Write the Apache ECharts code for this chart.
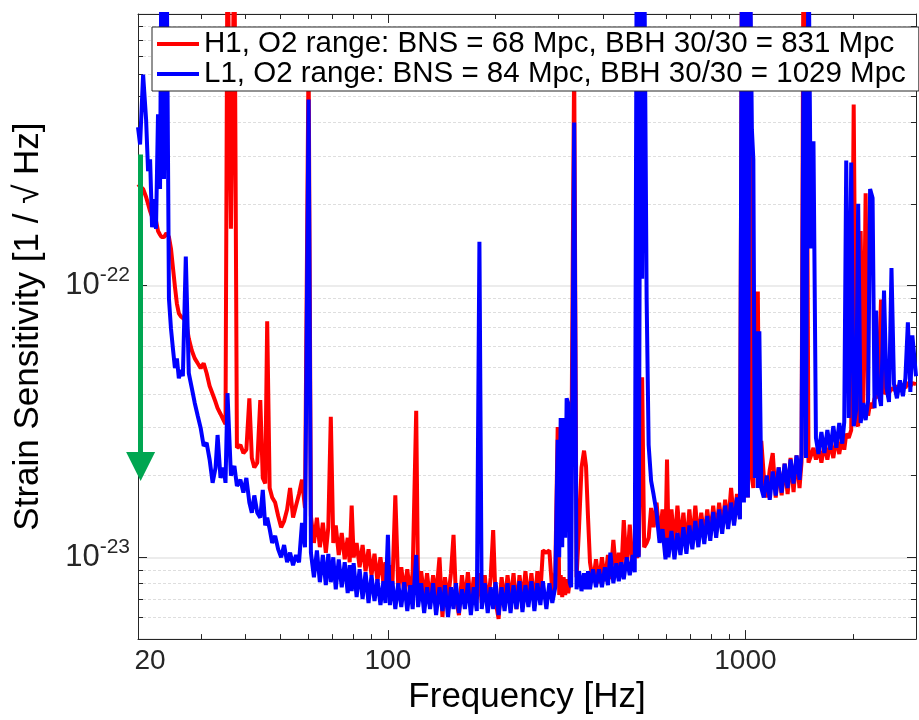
<!DOCTYPE html>
<html><head><meta charset="utf-8">
<script src="https://cdn.jsdelivr.net/npm/echarts@6/dist/echarts.min.js"></script>
<style>html,body{margin:0;padding:0;background:#fff}#c{width:919px;height:720px}</style>
</head><body><div id="c"></div>
<script>
// ---- data (frequency in Hz, strain in 1/sqrt(Hz)) ----
const freqHz = [
20, 20.27, 20.67, 21.07, 21.34, 21.62, 21.90, 22.18, 22.46, 22.75,
23.05, 23.27, 23.64, 24.03, 24.41, 24.73, 25.04, 25.37, 25.69, 26.02,
26.36, 26.70, 27.21, 27.74, 28.28, 28.82, 29.38, 29.95, 30.53, 31.12,
31.72, 32.34, 32.96, 33.39, 34.03, 34.69, 35.14, 35.59, 36.39, 37.21,
37.82, 38.68, 39.43, 40.19, 40.97, 41.63, 42.30, 43.12, 43.96, 44.67,
45.38, 45.96, 46.70, 47.46, 48.38, 49.33, 50.28, 51.25, 52.25, 53.26,
54.29, 55.35, 56.42, 57.51, 58.63, 60.0, 60.91, 62.10, 63.30, 64.52,
65.78, 67.05, 68.13, 69.23, 70.35, 71.48, 72.87, 74.28, 75.72, 77.19,
78.19, 79.19, 80.21, 81.76, 83.34, 84.96, 86.60, 88.27, 89.99, 91.73,
93.50, 95.32, 97.16, 98.42, 100.0, 101.3, 102.9, 104.9, 106.9, 109.0,
111.1, 113.3, 115.5, 117.3, 120.0, 121.5, 123.9, 126.3, 128.7, 131.2,
133.8, 136.4, 139.4, 142.1, 144.4, 147.3, 150.1, 152.6, 155.0, 158.0,
161.1, 164.2, 167.4, 170.6, 173.9, 177.3, 180.3, 183.0, 186.6, 190.2,
193.9, 197.0, 200.1, 204.0, 208.0, 212.0, 216.1, 220.3, 224.6, 228.9,
233.4, 237.9, 242.5, 247.2, 252.0, 256.9, 261.9, 267.0, 271.3, 277.5,
282.9, 288.3, 293.9, 298.5, 301.4, 304.3, 307.3, 310.2, 313.2, 316.2,
319.3, 322.4, 325.5, 331.9, 337.1, 342.5, 348.0, 353.7, 358.2, 362.9,
367.5, 374.7, 382.0, 389.4, 396.9, 404.6, 412.5, 419.1, 427.2, 435.5,
442.5, 449.6, 456.8, 465.7, 474.8, 484.0, 490.3, 496.6, 503.0, 509.4,
514.2, 520.9, 529.3, 536.2, 544.8, 553.6, 564.3, 575.2, 586.4, 597.7,
603.5, 609.3, 621.1, 633.2, 645.4, 658.0, 670.7, 683.8, 697.0, 710.5,
724.3, 738.4, 752.6, 767.2, 782.1, 797.3, 812.7, 828.4, 844.5, 860.9,
877.6, 894.5, 911.9, 929.5, 947.1, 965.4, 977.9, 990.4, 1003.2, 1016.0,
1029.2, 1042.5, 1052.4, 1062.6, 1073.0, 1083.2, 1093.8, 1107.6, 1125.6, 1147.3,
1169.6, 1192.4, 1215.4, 1239.1, 1262.8, 1287.2, 1312.3, 1337.6, 1363.4, 1390.0,
1416.8, 1435.0, 1453.6, 1477.0, 1501.2, 1525.3, 1550.0, 1574.9, 1600.5, 1631.4,
1662.9, 1695.1, 1728.0, 1761.4, 1795.8, 1830.4, 1865.8, 1889.9, 1914.1, 1945.2,
1976.5, 2008.4, 2040.6, 2067.1, 2100.4, 2134.6, 2168.9, 2203.9, 2232.2, 2268.3,
2297.4, 2319.7, 2349.3, 2395.2, 2441.6, 2481.0, 2521.3, 2561.8, 2603.2, 2653.4,
2704.7, 2757.3, 2801.7, 2847.1, 2893.0, 2930.4, 3000
];

const h1Strain = [
2.36e-22, 2.32e-22, 2.27e-22, 2.12e-22, 2.00e-22, 1.88e-22, 1.79e-22, 1.70e-22, 1.73e-22, 1.59e-22,
1.54e-22, 1.51e-22, 1.51e-22, 1.56e-22, 1.51e-22, 1.37e-22, 1.17e-22, 9.92e-23, 8.59e-23, 7.90e-23,
7.70e-23, 7.83e-23, 7.45e-23, 6.39e-23, 5.77e-23, 5.40e-23, 5.18e-23, 4.97e-23, 5.18e-23, 4.76e-23,
4.27e-23, 3.99e-23, 3.73e-23, 3.54e-23, 3.37e-23, 3.20e-23, 3.09e-23, 2e-21, 1.62e-22, 2e-21,
2.53e-23, 2.59e-23, 2.42e-23, 2.49e-23, 3.85e-23, 2.32e-23, 2.14e-23, 2.23e-23, 3.79e-23, 1.96e-23,
1.87e-23, 7.39e-23, 1.80e-23, 1.66e-23, 1.59e-23, 1.42e-23, 1.29e-23, 1.36e-23, 1.50e-23, 1.80e-23,
1.40e-23, 1.55e-23, 1.71e-23, 1.93e-23, 1.52e-23, 7.38e-22, 1.42e-23, 1.13e-23, 1.40e-23, 1.09e-23,
1.34e-23, 1.04e-23, 1.29e-23, 3.29e-23, 1.13e-23, 1.31e-23, 1.02e-23, 1.23e-23, 9.83e-24, 1.18e-23,
9.59e-24, 1.55e-23, 1.00e-23, 1.13e-23, 9.19e-24, 1.11e-23, 8.89e-24, 1.07e-23, 8.59e-24, 1.03e-23,
8.17e-24, 1.00e-23, 8.03e-24, 9.59e-24, 7.90e-24, 9.35e-24, 7.76e-24, 1.69e-23, 7.76e-24, 9.19e-24,
7.44e-24, 9.04e-24, 7.26e-24, 8.81e-24, 3.46e-23, 7.38e-24, 8.89e-24, 7.14e-24, 8.74e-24, 6.90e-24,
8.59e-24, 7.14e-24, 1.00e-23, 6.03e-24, 8.45e-24, 7.02e-24, 8.74e-24, 1.21e-23, 7.14e-24, 6.13e-24,
8.59e-24, 6.90e-24, 8.81e-24, 6.79e-24, 8.45e-24, 7.02e-24, 8.74e-24, 6.79e-24, 8.59e-24, 6.67e-24,
8.45e-24, 1.26e-23, 6.90e-24, 5.93e-24, 8.45e-24, 6.79e-24, 8.59e-24, 6.90e-24, 8.74e-24, 6.45e-24,
8.59e-24, 6.90e-24, 8.89e-24, 6.79e-24, 8.74e-24, 6.67e-24, 8.89e-24, 7.38e-24, 1.06e-23, 1.04e-23,
1.06e-23, 7.44e-24, 8.81e-24, 3.02e-23, 7.26e-24, 8.59e-24, 7.14e-24, 8.45e-24, 7.26e-24, 8.31e-24,
7.38e-24, 8.10e-24, 1.76e-23, 6.78e-22, 8.45e-24, 1.29e-23, 2.14e-23, 2.47e-23, 2.17e-23, 1.40e-23,
9.59e-24, 8.10e-24, 9.83e-24, 8.03e-24, 1.00e-23, 8.17e-24, 1.02e-23, 8.31e-24, 1.16e-23, 8.59e-24,
1.04e-23, 8.74e-24, 1.37e-23, 9.04e-24, 1.32e-23, 9.19e-24, 1.09e-23, 1.00e-23, 1.02e-23, 1.03e-23,
4.60e-23, 1.09e-23, 1.13e-23, 1.18e-23, 1.52e-23, 1.29e-23, 1.59e-23, 1.18e-23, 1.50e-23, 1.13e-23,
2.29e-23, 1.18e-23, 1.50e-23, 1.11e-23, 1.55e-23, 1.13e-23, 1.46e-23, 1.09e-23, 1.50e-23, 1.13e-23,
1.55e-23, 1.16e-23, 1.46e-23, 1.18e-23, 1.50e-23, 1.20e-23, 1.55e-23, 1.23e-23, 1.59e-23, 1.27e-23,
1.63e-23, 1.31e-23, 1.80e-23, 1.34e-23, 1.71e-23, 1.40e-23, 2e-21, 1.66e-23, 2e-21, 1.66e-23,
2e-21, 1.96e-23, 1.80e-23, 9.51e-23, 1.96e-23, 9.51e-23, 1.96e-23, 2.68e-23, 2.00e-23, 1.66e-23,
2.10e-23, 2.42e-23, 1.66e-23, 2.14e-23, 1.69e-23, 2.21e-23, 1.71e-23, 2.32e-23, 1.74e-23, 2.37e-23,
1.80e-23, 2.23e-23, 2e-21, 2e-21, 2.23e-23, 2.37e-23, 2.53e-23, 2.29e-23, 2.53e-23, 2.23e-23,
2.62e-23, 2.29e-23, 2.66e-23, 2.32e-23, 2.75e-23, 2.40e-23, 2.80e-23, 2.49e-23, 2.85e-23, 2.75e-23,
2.94e-23, 4.64e-22, 3.12e-23, 3.04e-23, 1.59e-22, 3.54e-23, 2.19e-22, 3.32e-23, 3.70e-23, 3.54e-23,
3.85e-23, 3.79e-23, 3.92e-23, 8.89e-23, 3.99e-23, 4.13e-23, 4.02e-23, 4.20e-23, 4.13e-23, 4.27e-23,
4.13e-23, 4.34e-23, 4.20e-23, 4.41e-23, 4.27e-23, 4.38e-23, 4.34e-23
];

const l1Strain = [
3.83e-22, 3.31e-22, 5.98e-22, 4.09e-22, 2.64e-22, 2.92e-22, 1.64e-22, 2.08e-22, 1.62e-22, 4.27e-22,
2.27e-22, 2e-21, 2.47e-22, 2e-21, 8.96e-23, 6.96e-23, 5.88e-23, 4.97e-23, 5.40e-23, 4.56e-23,
4.89e-23, 4.64e-23, 1.28e-22, 4.76e-23, 4.20e-23, 3.70e-23, 3.32e-23, 2.99e-23, 2.57e-23, 2.64e-23,
2.29e-23, 1.88e-23, 2.14e-23, 2.82e-23, 1.96e-23, 2.14e-23, 1.88e-23, 4.02e-23, 2.00e-23, 2.17e-23,
1.83e-23, 1.93e-23, 1.73e-23, 1.96e-23, 1.59e-23, 1.46e-23, 1.69e-23, 1.46e-23, 1.40e-23, 1.77e-23,
1.31e-23, 1.40e-23, 1.27e-23, 1.13e-23, 1.20e-23, 1.07e-23, 1.00e-23, 1.11e-23, 9.59e-24, 1.04e-23,
9.35e-24, 1.02e-23, 9.59e-24, 1.34e-23, 1.09e-23, 4.84e-22, 1.04e-23, 8.45e-24, 1.06e-23, 8.10e-24,
1.02e-23, 7.90e-24, 1.03e-23, 8.10e-24, 1.00e-23, 7.63e-24, 9.83e-24, 7.76e-24, 9.59e-24, 7.38e-24,
9.35e-24, 7.51e-24, 9.51e-24, 7.14e-24, 9.04e-24, 7.02e-24, 8.81e-24, 6.79e-24, 8.59e-24, 6.90e-24,
8.31e-24, 6.67e-24, 8.17e-24, 6.79e-24, 1.21e-23, 6.67e-24, 8.17e-24, 6.45e-24, 8.03e-24, 6.56e-24,
8.10e-24, 6.34e-24, 7.90e-24, 6.45e-24, 1.02e-23, 6.56e-24, 8.03e-24, 6.24e-24, 7.76e-24, 6.45e-24,
8.03e-24, 6.13e-24, 7.76e-24, 6.34e-24, 7.90e-24, 6.03e-24, 7.76e-24, 6.45e-24, 8.03e-24, 6.24e-24,
7.63e-24, 6.45e-24, 8.03e-24, 6.13e-24, 7.76e-24, 6.34e-24, 1.45e-22, 6.45e-24, 8.03e-24, 6.24e-24,
7.76e-24, 6.45e-24, 8.10e-24, 6.13e-24, 7.76e-24, 6.34e-24, 8.03e-24, 6.24e-24, 7.90e-24, 6.45e-24,
8.17e-24, 6.29e-24, 7.90e-24, 6.56e-24, 8.17e-24, 6.34e-24, 8.03e-24, 6.67e-24, 8.17e-24, 6.45e-24,
8.03e-24, 6.79e-24, 7.76e-24, 2.71e-23, 1.00e-23, 3.26e-23, 1.09e-23, 3.26e-23, 1.18e-23, 3.85e-23,
3.70e-23, 8.10e-24, 7.76e-24, 3.99e-22, 7.63e-24, 8.89e-24, 7.51e-24, 8.74e-24, 7.63e-24, 8.89e-24,
7.63e-24, 9.04e-24, 7.76e-24, 9.04e-24, 7.76e-24, 9.19e-24, 7.90e-24, 1.04e-23, 8.03e-24, 9.51e-24,
8.17e-24, 9.59e-24, 8.31e-24, 1.00e-23, 8.59e-24, 1.02e-23, 8.81e-24, 2e-21, 1.00e-23, 2e-21,
1.06e-22, 2e-21, 8.96e-23, 2.59e-23, 1.91e-23, 1.70e-23, 1.46e-23, 1.13e-23, 1.27e-23, 9.83e-24,
1.18e-23, 1.00e-23, 1.25e-23, 9.83e-24, 1.23e-23, 1.02e-23, 1.29e-23, 1.03e-23, 1.31e-23, 1.07e-23,
1.36e-23, 1.09e-23, 1.38e-23, 1.12e-23, 1.42e-23, 1.15e-23, 1.47e-23, 1.18e-23, 1.50e-23, 1.22e-23,
1.55e-23, 1.27e-23, 1.59e-23, 1.31e-23, 1.66e-23, 1.38e-23, 2e-21, 1.59e-23, 2e-21, 1.66e-23,
2e-21, 3.76e-22, 2.92e-22, 1.96e-23, 6.79e-23, 1.80e-23, 6.79e-23, 1.80e-23, 1.66e-23, 2.00e-23,
1.63e-23, 2.07e-23, 1.69e-23, 2.14e-23, 1.73e-23, 2.21e-23, 1.80e-23, 2.29e-23, 1.87e-23, 2.37e-23,
1.93e-23, 2.40e-23, 6.78e-22, 2.32e-23, 2e-21, 1.37e-22, 3.40e-22, 2.75e-23, 2.40e-23, 2.89e-23,
2.42e-23, 2.94e-23, 2.49e-23, 3.04e-23, 2.53e-23, 3.12e-23, 2.62e-23, 3.15e-23, 2.89e-22, 3.26e-23,
2.84e-22, 3.04e-23, 3.49e-23, 2.00e-22, 3.12e-23, 3.70e-23, 3.20e-23, 3.79e-23, 2.27e-22, 2.10e-22,
3.54e-23, 8.10e-23, 4.13e-23, 3.61e-23, 9.59e-23, 4.20e-23, 3.73e-23, 1.16e-22, 4.34e-23, 3.85e-23,
4.48e-23, 3.92e-23, 4.56e-23, 7.33e-23, 4.06e-23, 6.56e-23, 4.64e-23
];

const legendNames = [
  'H1, O2 range: BNS = 68 Mpc, BBH 30/30 = 831 Mpc',
  'L1, O2 range: BNS = 84 Mpc, BBH 30/30 = 1029 Mpc'
];
const xTickLabels = [20, 100, 1000];
const yTickExponents = [-23, -22];
const arrowFreq = [20.34, 20.34];
const arrowStrain = [3.04e-22, 2.16e-23];

// ---- chart ----
const UNIT = 1e-23;          // y axis is drawn in units of 1e-23 (log axis precision)
const AX = '#262626';
const FONT = '"Liberation Sans", Arial, Helvetica, sans-serif';
const toPairs = arr => freqHz.map((f, i) => [f, arr[i] / UNIT]);

const xLabelFmt = v => {
  const m = xTickLabels.find(t => Math.abs(t - v) / t < 1e-6);
  if (m === undefined) return '';
  return m === 20 ? '{m|20}' : String(m);
};
const yLabelFmt = v => {
  const e = Math.log10(v * UNIT);
  const r = Math.round(e);
  if (Math.abs(e - r) > 1e-6 || !yTickExponents.includes(r)) return '';
  return '{b|10}{s|' + r + '}';
};

const baseX = {
  type: 'log', logBase: 10, min: 20, max: 3000, gridIndex: 0,
  axisLine: { show: true, onZero: false, lineStyle: { color: AX, width: 1 } },
  axisTick: { show: true, inside: true, length: 9, lineStyle: { color: AX, width: 1 } },
  minorTick: { show: true, splitNumber: 9, length: 5, lineStyle: { color: AX, width: 1 } },
  splitLine: { show: false }, minorSplitLine: { show: false }
};
const baseY = {
  type: 'log', logBase: 10, min: 0.5, max: 100, gridIndex: 0,
  axisLine: { show: true, onZero: false, lineStyle: { color: AX, width: 1 } },
  axisTick: { show: true, inside: true, length: 9, lineStyle: { color: AX, width: 1 } },
  minorTick: { show: true, splitNumber: 9, length: 5, lineStyle: { color: AX, width: 1 } }
};

const chart = echarts.init(document.getElementById('c'), null, { renderer: 'canvas' });
chart.setOption({
  animation: false,
  backgroundColor: '#ffffff',
  textStyle: { fontFamily: FONT },
  grid: { left: 138, right: -2, top: 14, bottom: 78, containLabel: false },
  legend: {
    data: legendNames, orient: 'vertical', left: 152, top: 27,
    padding: [2, 13, 2, 5], itemGap: 0, itemWidth: 42, itemHeight: 4, icon: 'rect',
    backgroundColor: '#ffffff', borderColor: AX, borderWidth: 1, borderRadius: 0,
    selectedMode: false,
    textStyle: { fontSize: 29.5, color: '#000', fontFamily: FONT, lineHeight: 29 }
  },
  xAxis: [
    Object.assign({}, baseX, {
      position: 'bottom',
      name: 'Frequency [Hz]', nameLocation: 'middle', nameGap: 40,
      nameTextStyle: { fontSize: 35, color: '#000', fontFamily: FONT },
      axisLabel: { show: true, margin: 8, color: AX, fontSize: 28, fontFamily: FONT,
        formatter: xLabelFmt, rich: { m: { fontSize: 28, color: AX, fontFamily: FONT, padding: [0, 0, 0, 24] } } }
    }),
    Object.assign({}, baseX, { position: 'top', axisLabel: { show: false } })
  ],
  yAxis: [
    Object.assign({}, baseY, {
      position: 'left',
      name: 'Strain Sensitivity [1 / \u221A Hz]', nameLocation: 'middle', nameGap: 92,
      nameTextStyle: { fontSize: 35, color: '#000', fontFamily: FONT },
      splitLine: { show: true, lineStyle: { color: '#e6e6e6', width: 1.5, type: 'solid' } },
      minorSplitLine: { show: true, lineStyle: { color: '#dedede', width: 1, type: [3, 2] } },
      axisLabel: { show: true, margin: 8, color: AX, fontFamily: FONT, formatter: yLabelFmt,
        rich: {
          b: { fontSize: 31, color: AX, fontFamily: FONT, lineHeight: 42 },
          s: { fontSize: 21, color: AX, fontFamily: FONT, lineHeight: 21, verticalAlign: 'top' }
        } }
    }),
    Object.assign({}, baseY, { position: 'right', axisLabel: { show: false },
      splitLine: { show: false }, minorSplitLine: { show: false } })
  ],
  series: [
    { name: legendNames[0], type: 'line', xAxisIndex: 0, yAxisIndex: 0, data: toPairs(h1Strain),
      showSymbol: false, symbol: 'none', clip: true, z: 2,
      lineStyle: { color: '#ff0000', width: 4, join: 'bevel' }, itemStyle: { color: '#ff0000' } },
    { name: legendNames[1], type: 'line', xAxisIndex: 0, yAxisIndex: 0, data: toPairs(l1Strain),
      showSymbol: false, symbol: 'none', clip: true, z: 3,
      lineStyle: { color: '#0000ff', width: 4, join: 'bevel' }, itemStyle: { color: '#0000ff' } },
    { name: 'arrow', type: 'line', xAxisIndex: 0, yAxisIndex: 0, data: [], z: 4, silent: true,
      markLine: {
        silent: true, animation: false, symbol: ['none', 'triangle'], symbolSize: [29, 29],
        label: { show: false }, emphasis: { disabled: true },
        lineStyle: { color: '#00a651', width: 5, type: 'solid' }, itemStyle: { color: '#00a651' },
        data: [[{ coord: [arrowFreq[0], arrowStrain[0] / UNIT] }, { coord: [arrowFreq[1], arrowStrain[1] / UNIT] }]]
      } }
  ]
});
</script>
</body></html>
